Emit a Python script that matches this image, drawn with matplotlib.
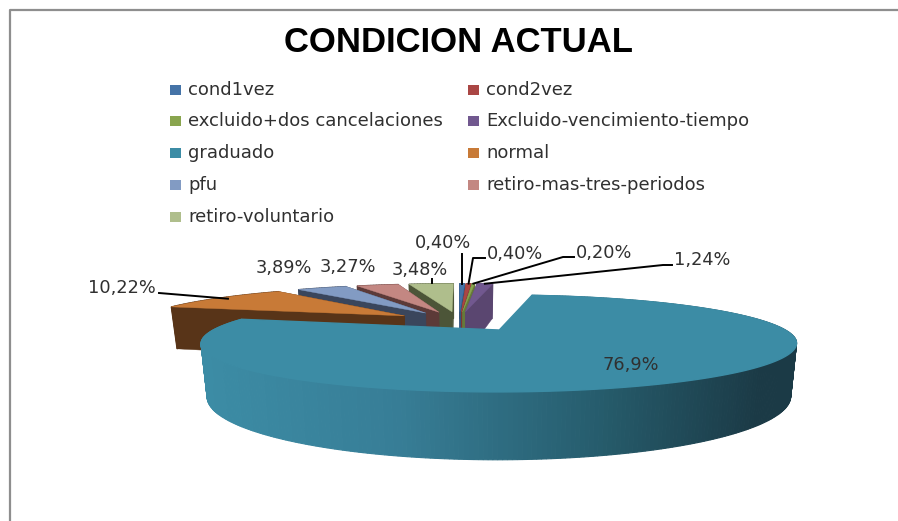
import numpy as np
import matplotlib
matplotlib.use("Agg")
import matplotlib.pyplot as plt

#Data
names = ["cond1vez", "cond2vez", "excluido+dos cancelaciones", "Excluido-vencimiento-tiempo",
         "graduado", "normal", "pfu", "retiro-mas-tres-periodos", "retiro-voluntario"]
values = [0.40, 0.40, 0.20, 1.24, 76.9, 10.22, 3.89, 3.27, 3.48]
value_labels = ["0,40%", "0,40%", "0,20%", "1,24%", "76,9%", "10,22%", "3,89%", "3,27%", "3,48%"]
colors = ["#4573A7", "#AA4644", "#89A54E", "#71588F", "#3C8CA5", "#C87A37", "#829BC3", "#C38782", "#AFBE8C"]
side_colors = ["#34567D", "#7F3433", "#66793A", "#5A4670", "#3C8CA5", "#583418", "#3A465C", "#5C3A38", "#4C5538"]

#Label centres and leader elbows, in pixels
label_pos = [(443, 243), (515, 254), (604, 253), (702, 260), (631, 365), (122, 288), (284, 268), (348, 267), (420, 270)]
elbows = [(None, 254), (473, 258), (563, 257), (663, 265), None, (159, 293), None, None, (432, 279)]

#Projection settings for the tilted pie
cx_back, cx_front, cy = 459, 505, 330
rx, ay = 286, 44.7
k = 0.278
h = 49
center = np.array([0.0, 0.21])
explode = 0.25
grad_apex = np.array([-0.02, 0.0])
grad_stops_x = [203, 400, 600, 760, 803]
grad_stops_c = np.array([[60, 140, 165], [55, 125, 150], [38, 92, 108], [27, 58, 70], [27, 58, 70]]) / 255


def proj(u, v, z, cx):
    f = 1 / (1 + k * v)
    return cx + rx * u * f * (1 - 0.02 * z / h), cy - ay * v * f + z * f


def apex_of(i):
    if names[i] == "graduado":
        return grad_apex
    return center + explode * np.array([np.sin(mids[i]), np.cos(mids[i])])


fig = plt.figure(figsize=(8.98, 5.21), dpi=100)
ax = fig.add_axes([0, 0, 1, 1])
ax.set_xlim(0, 898)
ax.set_ylim(521, 0)
ax.axis("off")

#Chart border, only top and left are in the picture
ax.plot([9.5, 9.5, 898], [521, 9.5, 9.5], color="#8E8E8E", lw=1.6, zorder=1)

#Slices
shares = np.array(values) / sum(values) * 2 * np.pi
ends = np.cumsum(shares)
starts = ends - shares
mids = (starts + ends) / 2
order = np.argsort(-np.cos(mids))

z = 2
for i in order:
    apex = apex_of(i)
    vx = cx_front if names[i] == "graduado" else cx_back
    th = np.linspace(starts[i], ends[i], max(4, int(shares[i] * 80)))
    us = apex[0] + np.sin(th)
    vs = apex[1] + np.cos(th)

    #Cut faces
    for t in (starts[i], ends[i]):
        ou, ov = apex[0] + np.sin(t), apex[1] + np.cos(t)
        a = proj(apex[0], apex[1], 0, vx)
        b = proj(ou, ov, 0, vx)
        c = proj(ou, ov, h, vx)
        d = proj(apex[0], apex[1], h, vx)
        if names[i] != "graduado":
            ax.fill([a[0], b[0], c[0], d[0]], [a[1], b[1], c[1], d[1]], color=side_colors[i], lw=0.3, zorder=z)

    #Outer wall
    for j in range(len(th) - 1):
        x0, y0 = proj(us[j], vs[j], 0, vx)
        x1, y1 = proj(us[j + 1], vs[j + 1], 0, vx)
        x2, y2 = proj(us[j + 1], vs[j + 1], h, vx)
        x3, y3 = proj(us[j], vs[j], h, vx)
        if names[i] == "graduado":
            col = [np.interp((x0 + x1) / 2, grad_stops_x, grad_stops_c[:, n]) for n in range(3)]
        else:
            col = side_colors[i]
        ax.fill([x0, x1, x2, x3], [y0, y1, y2, y3], color=col, lw=0.8, zorder=z)

    #Top
    px, py = proj(np.r_[apex[0], us], np.r_[apex[1], vs], 0, vx)
    ax.fill(px, py, color=colors[i], lw=1.0 if names[i] == "graduado" else 0.3, zorder=z + 0.5)
    z += 1

#Leader lines
for i, el in enumerate(elbows):
    if el is None:
        continue
    apex = apex_of(i)
    if i < 4:
        ex, ey = proj(apex[0] + np.sin(mids[i]), apex[1] + np.cos(mids[i]), 0, cx_back)
        if i == 0:
            ax.plot([ex, ex], [ey, el[1]], color="black", lw=1.4, zorder=30)
        else:
            ax.plot([ex, el[0], label_pos[i][0] - 30], [ey, el[1], el[1]], color="black", lw=1.4, zorder=30)
    elif i == 5:
        ex, ey = proj(apex[0] + 0.95 * np.sin(mids[i]), apex[1] + 0.95 * np.cos(mids[i]), 0, cx_back)
        ax.plot([ex, el[0]], [ey, el[1]], color="black", lw=1.4, zorder=30)
    else:
        ax.plot([el[0], el[0]], [el[1], el[1] + 4], color="black", lw=1.4, zorder=30)

#Value labels
for lab, pos in zip(value_labels, label_pos):
    ax.text(pos[0], pos[1], lab, ha="center", va="center", fontsize=12.8, color="#303030", zorder=40)

#Legend, filled row by row
col_x = [170, 468]
row_y = [90, 121, 153, 185, 217]
for i, nm in enumerate(names):
    x = col_x[i % 2]
    y = row_y[i // 2]
    ax.fill([x, x + 11, x + 11, x], [y - 5, y - 5, y + 5, y + 5], color=colors[i], lw=0, zorder=40)
    ax.text(x + 18, y, nm, ha="left", va="center", fontsize=13, color="#303030", zorder=40)

ax.text(459, 42.5, "CONDICION ACTUAL", ha="center", va="center", fontsize=24.9, fontweight="bold",
        family="Liberation Sans", color="black", zorder=40)

fig.savefig("out.png", dpi=100)
